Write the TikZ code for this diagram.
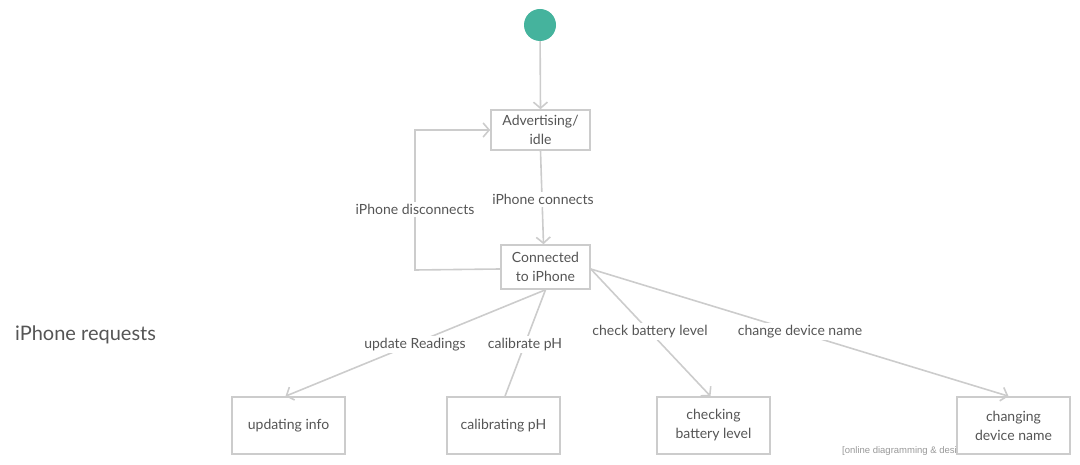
\documentclass[tikz,border=0pt]{standalone}
\usepackage{fontspec}
\setmainfont{Lato}
\newfontfamily\wmfont{Liberation Sans}
\usetikzlibrary{arrows.meta}
\definecolor{linec}{HTML}{CCCCCC}
\definecolor{txtc}{HTML}{555555}
\definecolor{startc}{HTML}{45B39D}
\tikzset{
  statebox/.style={draw=linec, line width=1.6pt, fill=white, text=txtc, font=\fontsize{14}{19}\selectfont, align=center, inner sep=0pt},
  conn/.style={draw=linec, line width=1.6pt},
  arr/.style={conn, -{Straight Barb[length=6pt,width=14pt,line width=1.6pt]}},
  lbl/.style={fill=white, text=txtc, font=\fontsize{14}{17}\selectfont, inner sep=2pt}
}
\begin{document}
\begin{tikzpicture}[x=1pt,y=-1pt]
\useasboundingbox (0,0) rectangle (1080,465);
% watermark
\node[anchor=base west, text=gray!80, font=\wmfont\fontsize{9.5}{11}\selectfont, inner sep=0pt] (wm) at (842,453) {[online diagramming \& design] creately.com};
% start
\node[circle, fill=startc, minimum size=32pt, inner sep=0pt] (start) at (540,25) {};
% boxes
\node[statebox, minimum width=99pt, minimum height=40pt] (adv) at (540.5,130) {Advertising/\\idle};
\node[statebox, minimum width=89pt, minimum height=44pt] (con) at (545.5,267) {Connected\\to iPhone};
\node[statebox, minimum width=113pt, minimum height=57pt] (upd) at (288.5,425.5) {updating info};
\node[statebox, minimum width=113pt, minimum height=57pt] (cal) at (503.5,425.5) {calibrating pH};
\node[statebox, minimum width=113pt, minimum height=57pt] (chk) at (713.5,425.5) {checking\\battery level};
\node[statebox, minimum width=113pt, minimum height=57pt] (chg) at (1013.5,425.5) {changing\\device name};
% side label
\node[text=txtc, font=\fontsize{20}{24}\selectfont, anchor=west, inner sep=0pt] (req) at (15,335) {iPhone requests};
% connectors
\coordinate (lc) at (415,270);
\draw[arr] (start) -- (adv.north);
\draw[arr] (adv.south) -- ([xshift=-2pt]con.north);
\draw[arr] ([yshift=-2pt]con.west) -- (lc) |- (adv.west);
\draw[arr] (con.south) -- ([xshift=-3pt]upd.north);
\draw[conn] (con.south) -- ([xshift=1.5pt]cal.north);
\draw[arr] ([yshift=-2pt]con.east) -- ([xshift=-3pt]chk.north);
\draw[arr] ([yshift=-2pt]con.east) -- ([xshift=-5pt]chg.north);
% labels
\node[lbl] (l1) at (543,199.5) {iPhone connects};
\node[lbl] (l2) at (415,209.5) {iPhone disconnects};
\node[lbl] (l3) at (415,344.5) {update Readings};
\node[lbl] (l4) at (525,344.5) {calibrate pH};
\node[lbl] (l5) at (650,331.5) {check battery level};
\node[lbl] (l6) at (800,331.5) {change device name};
\end{tikzpicture}
\end{document}
